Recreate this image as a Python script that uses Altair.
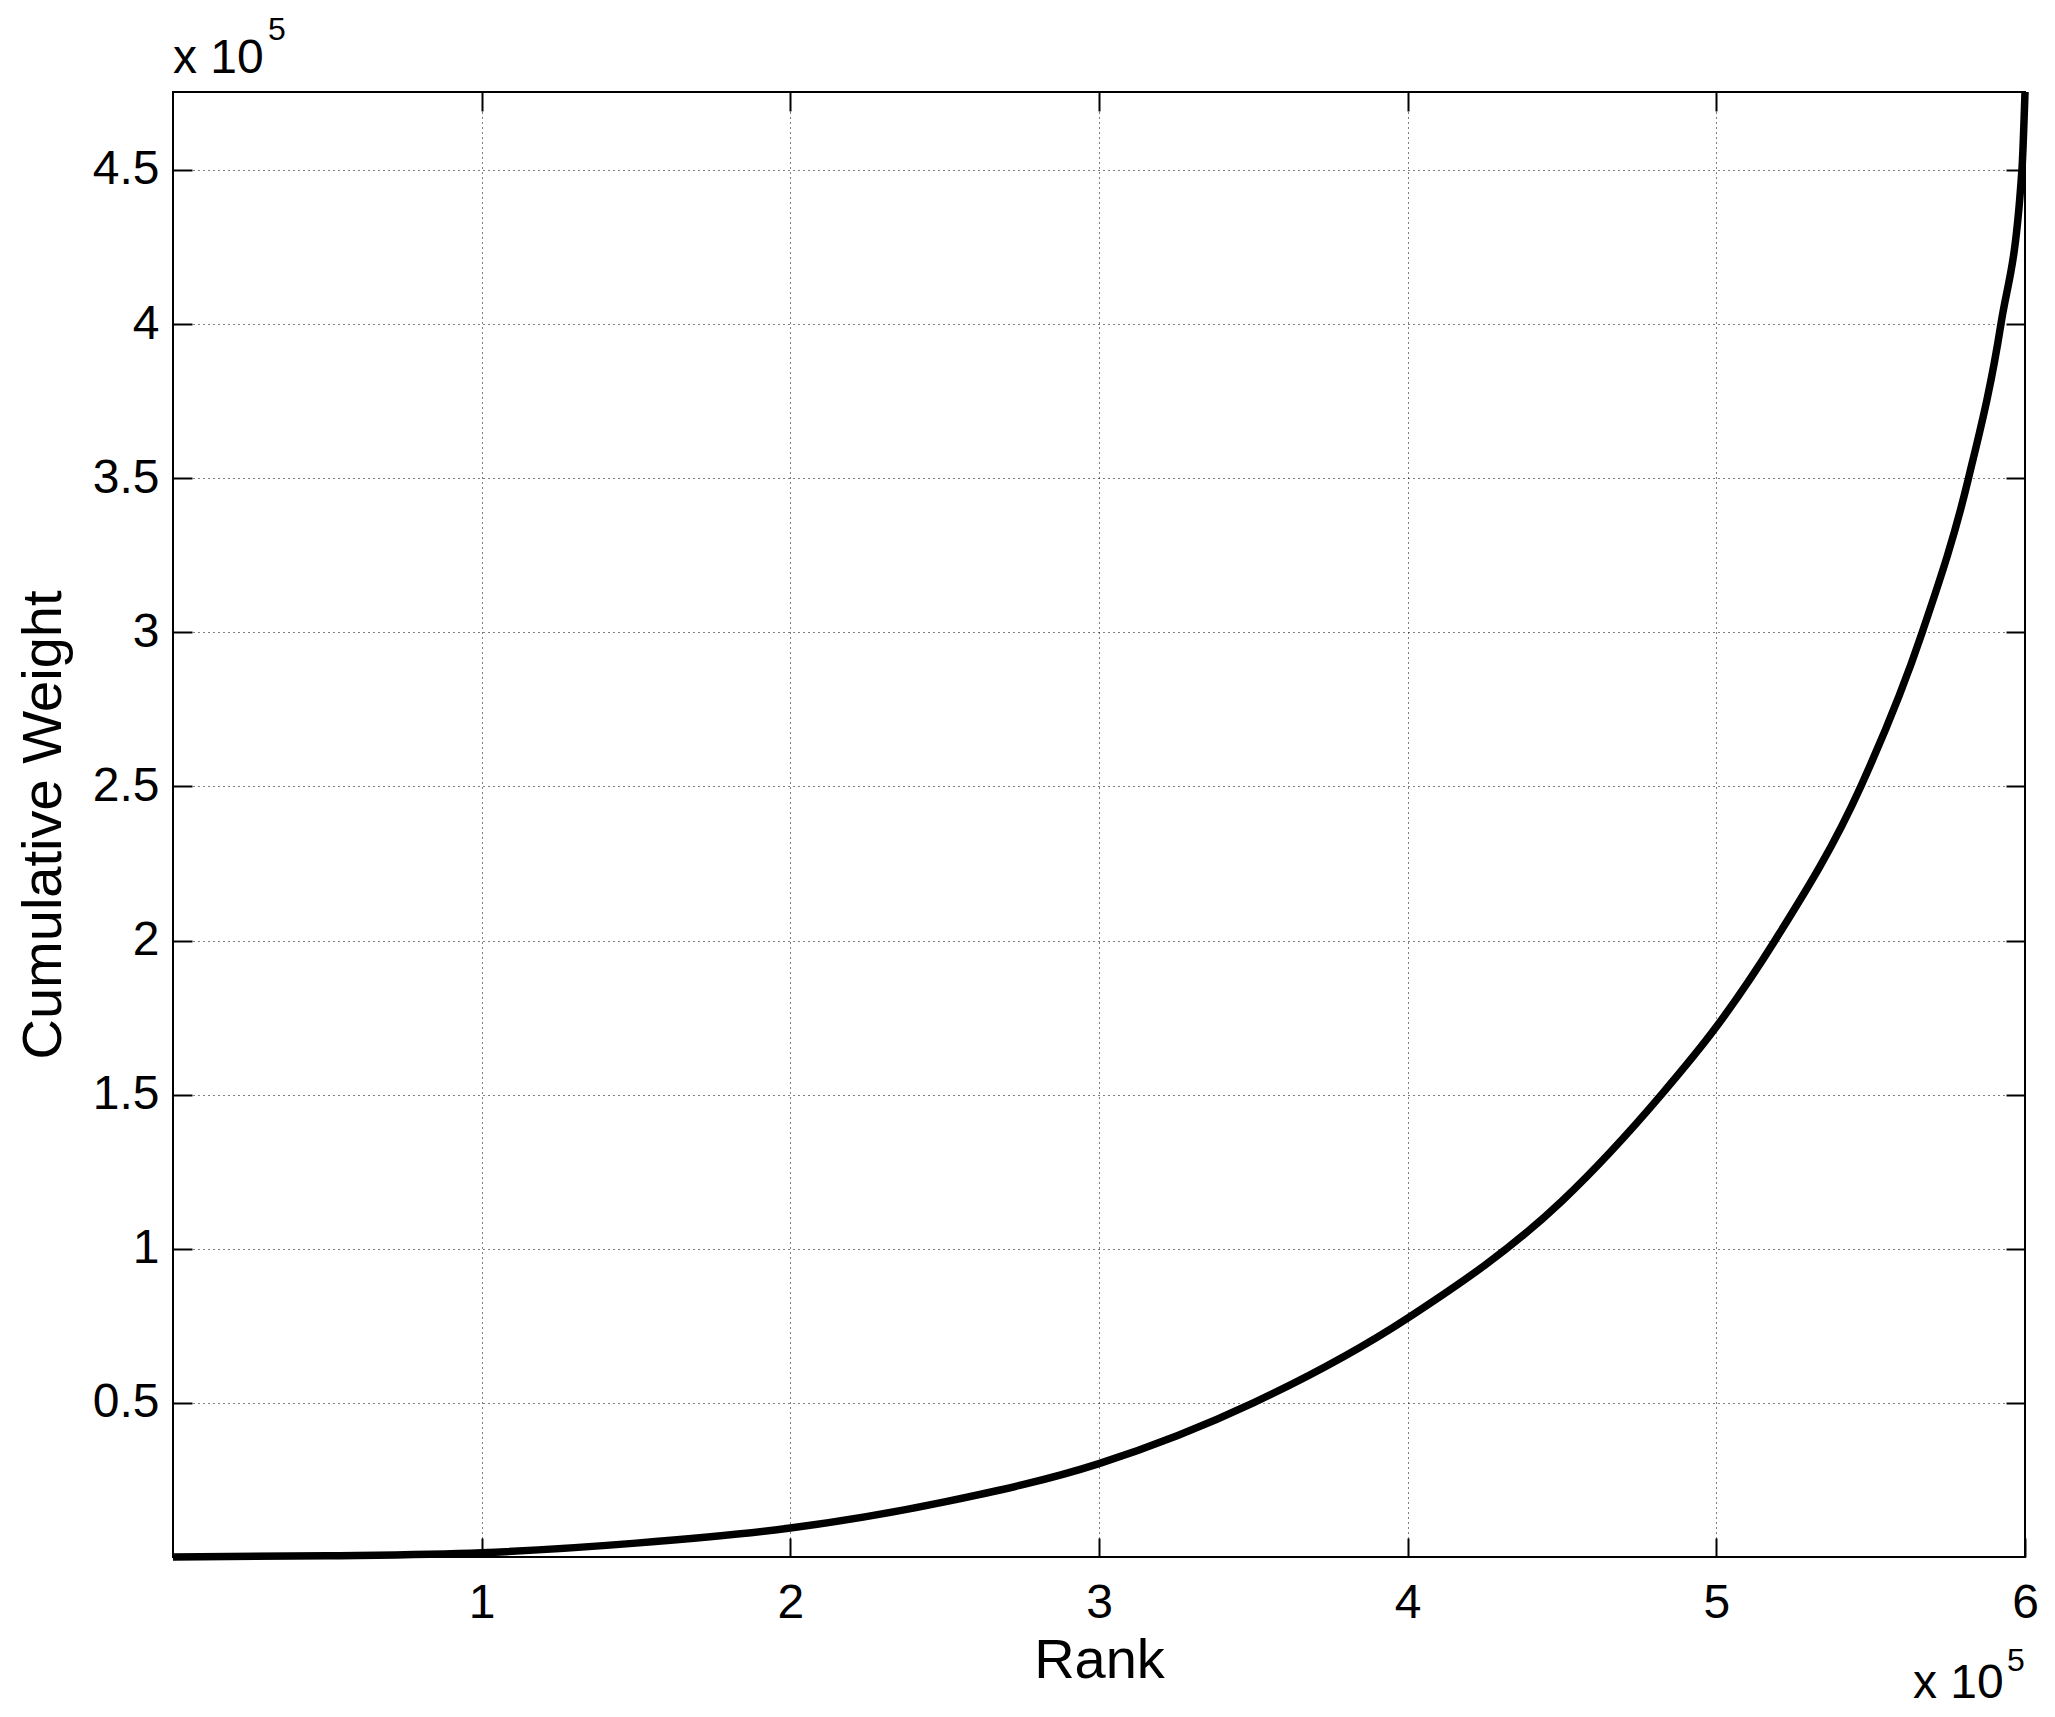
import altair as alt
import pandas as pd

# Values (rank, cumulative weight)
rank = [0, 50000, 100000, 150000, 200000, 250000, 300000, 350000,
        400000, 450000, 482200, 500000, 519000, 546800,
        566700, 581700, 592200, 599000, 600000]
cum_weight = [0, 400, 1400, 4500, 9400, 17900, 30300, 50000,
              77500, 115500, 150000, 172000, 200000, 250000,
              300000, 350000, 400000, 450000, 475300]

x_ticks = [100000, 200000, 300000, 400000, 500000, 600000]
y_ticks = [50000, 100000, 150000, 200000, 250000, 300000, 350000, 400000, 450000]

df = pd.DataFrame({"rank": rank, "w": cum_weight})

W, H = 1852, 1465
FONT = "Liberation Sans"
xs = alt.Scale(domain=[0, 600000], nice=False, zero=False)
ys = alt.Scale(domain=[0, 475300], nice=False, zero=False)
lab_expr = "datum.value / 100000"

base = alt.Chart(df)

main = base.mark_line(color="black", strokeWidth=7.5, interpolate="monotone").encode(
    x=alt.X("rank:Q", scale=xs, axis=alt.Axis(
        orient="bottom", values=x_ticks, labelExpr=lab_expr,
        grid=True, gridDash=[1, 4], gridColor="black", gridWidth=1, gridOpacity=1,
        ticks=False, tickSize=0, domain=False,
        labelFont=FONT, labelFontSize=48, labelColor="black",
        labelPadding=60, labelBaseline="alphabetic", labelFlush=False, labelOverlap=False,
        title="Rank", titleFont=FONT, titleFontSize=56, titleFontWeight="normal",
        titleColor="black", titleX=W / 2, titleY=120, titleBaseline="alphabetic",
        titleAlign="center")),
    y=alt.Y("w:Q", scale=ys, axis=alt.Axis(
        orient="left", values=y_ticks, labelExpr=lab_expr,
        grid=True, gridDash=[1, 4], gridColor="black", gridWidth=1, gridOpacity=1,
        ticks=False, tickSize=0, domain=False,
        labelFont=FONT, labelFontSize=48, labelColor="black",
        labelPadding=14, labelBaseline="middle", labelAlign="right",
        labelFlush=False, labelOverlap=False,
        title="Cumulative Weight", titleFont=FONT, titleFontSize=56,
        titleFontWeight="normal", titleColor="black", titleAngle=270,
        titleX=-113, titleY=H / 2, titleBaseline="alphabetic", titleAlign="center")),
)


def tick_layer(xo, yo):
    return base.mark_line(opacity=0).encode(
        x=alt.X("rank:Q", scale=xs, title="", axis=alt.Axis(
            orient=xo, values=x_ticks, offset=-19, tickSize=19, tickWidth=2,
            tickColor="black", labels=False, domain=False, grid=False)),
        y=alt.Y("w:Q", scale=ys, title="", axis=alt.Axis(
            orient=yo, values=y_ticks, offset=-19, tickSize=19, tickWidth=2,
            tickColor="black", labels=False, domain=False, grid=False)),
    )


ticks_bl = tick_layer("bottom", "left")
ticks_tr = tick_layer("top", "right")

one = alt.Chart(pd.DataFrame({"a": [0]}))


def label(txt, x, y, size):
    return one.mark_text(text=txt, font=FONT, fontSize=size, color="black",
                         align="left", baseline="alphabetic").encode(
        x=alt.value(x), y=alt.value(y))


annots = [
    label("x 10", 0, -19, 48),
    label("5", 95, -52, 32),
    label("x 10", 1740, H + 141, 48),
    label("5", 1834, H + 114, 32),
]

chart = alt.layer(main, ticks_bl, ticks_tr, *annots).resolve_axis(
    x="independent", y="independent"
).properties(
    width=W, height=H,
    autosize=alt.AutoSizeParams(type="none"),
    padding={"left": 165, "top": 84, "right": 20, "bottom": 155},
    background="white",
).configure_view(stroke="black", strokeWidth=2)

chart.save("out.html", embed_options={"renderer": "svg", "actions": False})
